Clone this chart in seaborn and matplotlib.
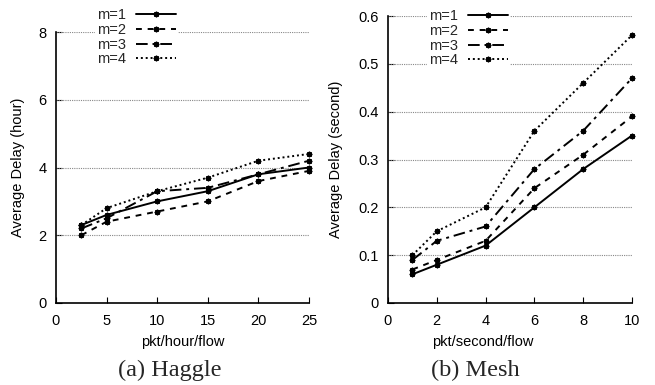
import numpy as np
import pandas as pd
import matplotlib
matplotlib.use("Agg")
import matplotlib.pyplot as plt
import seaborn as sns

# ---- data ----
series_labels = ["m=1", "m=2", "m=3", "m=4"]

haggle_x = [2.5, 5, 10, 15, 20, 25]
haggle_m1 = [2.3, 2.6, 3.0, 3.3, 3.8, 4.0]
haggle_m2 = [2.0, 2.4, 2.7, 3.0, 3.6, 3.9]
haggle_m3 = [2.2, 2.5, 3.3, 3.4, 3.8, 4.2]
haggle_m4 = [2.3, 2.8, 3.3, 3.7, 4.2, 4.4]

mesh_x = [1, 2, 4, 6, 8, 10]
mesh_m1 = [0.06, 0.08, 0.12, 0.20, 0.28, 0.35]
mesh_m2 = [0.07, 0.09, 0.13, 0.24, 0.31, 0.39]
mesh_m3 = [0.09, 0.13, 0.16, 0.28, 0.36, 0.47]
mesh_m4 = [0.10, 0.15, 0.20, 0.36, 0.46, 0.56]

haggle_xticks = [0, 5, 10, 15, 20, 25]
haggle_yticks = [0, 2, 4, 6, 8]
mesh_xticks = [0, 2, 4, 6, 8, 10]
mesh_yticks = [0, 0.1, 0.2, 0.3, 0.4, 0.5, 0.6]

sns.set_theme(style="white")
plt.rcParams["font.family"] = ["Liberation Sans", "DejaVu Sans"]

dash_styles = ["-", (0, (3, 3)), (0, (6, 2.5, 1.5, 2.5)), (0, (1, 1.5))]
mk = (8, 2, 0)
MS = 4
MEW = 1.0
FS = 10.5

W, H = 655, 385
fig = plt.figure(figsize=(W / 100, H / 100), dpi=100)
axL = fig.add_axes([56 / W, 1 - 303 / H, (309 - 56) / W, (303 - 32) / H])
axR = fig.add_axes([388 / W, 1 - 303 / H, (632 - 388) / W, (303 - 16) / H])


def draw(ax, x, ys, xlim, ylim, xticks, yticks, xlabel, ylabel, xlab_x, xlab_y, ylab_x):
    handles = []
    for lab, y, ls in zip(series_labels, ys, dash_styles):
        sns.lineplot(x=x, y=y, ax=ax, color="black", linestyle=ls, linewidth=1.4,
                     marker=mk, markersize=MS, markeredgewidth=MEW,
                     markeredgecolor="black", clip_on=False, zorder=3)
        h, = ax.plot([], [], color="black", linestyle=ls, linewidth=1.4,
                     marker=mk, markersize=MS, markeredgewidth=MEW)
        handles.append(h)
    ax.set_xlim(*xlim)
    ax.set_ylim(*ylim)
    ax.set_xticks(xticks)
    ax.set_yticks(yticks)
    ax.set_xticklabels([f"{t:g}" for t in xticks])
    ax.set_yticklabels([f"{t:g}" for t in yticks])
    for yt in yticks[1:]:
        ax.axhline(yt, color="#888888", linestyle=(0, (1, 1)), linewidth=0.8, zorder=1)
    for s in ["top", "right"]:
        ax.spines[s].set_visible(False)
    for s in ["left", "bottom"]:
        ax.spines[s].set_color("black")
        ax.spines[s].set_linewidth(1.2)
    ax.tick_params(direction="in", length=4, width=0.8, colors="black",
                   labelsize=FS, left=True, bottom=True)
    ax.tick_params(axis="x", pad=8)
    ax.tick_params(axis="y", pad=7)
    ax.set_xlabel(xlabel, fontsize=FS, color="black")
    ax.set_ylabel(ylabel, fontsize=FS, color="black")
    ax.xaxis.set_label_coords(xlab_x, xlab_y)
    ax.yaxis.set_label_coords(ylab_x, 0.5)
    return handles


hL = draw(axL, haggle_x, [haggle_m1, haggle_m2, haggle_m3, haggle_m4],
          (0, 25), (0, 8), haggle_xticks, haggle_yticks,
          "pkt/hour/flow", "Average Delay (hour)", 0.5, -0.118, -0.122)
hR = draw(axR, mesh_x, [mesh_m1, mesh_m2, mesh_m3, mesh_m4],
          (0, 10), (0, 0.6), mesh_xticks, mesh_yticks,
          "pkt/second/flow", "Average Delay (second)", 0.39, -0.111, -0.185)

for handles, lx, ly in [(hL, 95, 6), (hR, 427, 7)]:
    leg = fig.legend(handles, series_labels, loc="upper left",
                     bbox_to_anchor=(lx / W, 1 - ly / H),
                     markerfirst=False, frameon=True, fancybox=False,
                     framealpha=1, edgecolor="none", facecolor="white",
                     fontsize=FS, handlelength=2.7, handletextpad=0.7,
                     labelspacing=0.05, borderpad=0.15, borderaxespad=0)
    leg.set_zorder(5)

fig.text(170 / W, 1 - 370 / H, "(a) Haggle", ha="center", va="center",
         fontsize=17.5, family=["Liberation Serif", "DejaVu Serif"])
fig.text(475 / W, 1 - 370 / H, "(b) Mesh", ha="center", va="center",
         fontsize=17.5, family=["Liberation Serif", "DejaVu Serif"])

fig.savefig("out.png", dpi=100)
